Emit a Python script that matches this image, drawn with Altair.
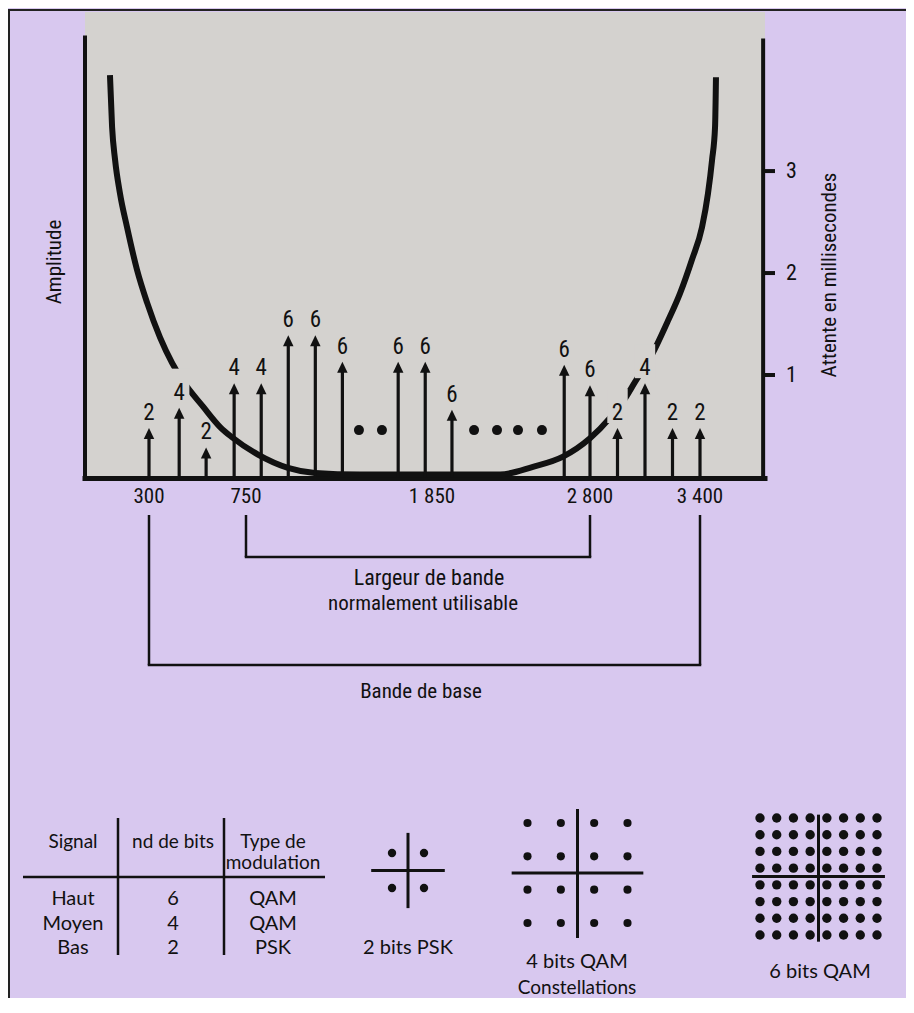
import altair as alt
import pandas as pd

# ---------------- data ----------------
# carriers: frequency (Hz), relative amplitude, bits carried
carrier_freq = [300, 440, 565, 695, 840, 1000, 1160, 1320, 1650, 1810, 1970,
                2645, 2800, 2950, 3100, 3250, 3400]
carrier_amp = [0.48, 0.68, 0.29, 0.92, 0.92, 1.39, 1.39, 1.13, 1.13, 1.13, 0.66,
               1.10, 0.90, 0.48, 0.92, 0.48, 0.48]
carrier_bits = [2, 4, 2, 4, 4, 6, 6, 6, 6, 6, 6, 6, 6, 2, 4, 2, 2]
halo_freq = [440, 2950, 3100]          # labels that interrupt the delay curve

# "..." omitted carriers
ellipsis_freq = [1418, 1554, 2103, 2241, 2367, 2511]
ellipsis_amp = [0.46, 0.46, 0.46, 0.46, 0.46, 0.46]

# group delay curve (ms)
delay_freq = [117, 127, 141, 164, 197, 244, 291, 351, 407, 458,
              551, 630, 685, 821, 998, 1158, 1424, 1850, 2259, 2457,
              2638, 2800, 2909, 2991, 3045, 3138, 3220, 3291, 3356, 3411,
              3443, 3465, 3481, 3486]
delay_ms = [3.94, 3.43, 3.11, 2.78, 2.45, 2.03, 1.71, 1.37, 1.12, 0.94,
            0.69, 0.49, 0.39, 0.22, 0.09, 0.04, 0.025, 0.025, 0.025, 0.10,
            0.20, 0.38, 0.58, 0.77, 0.93, 1.20, 1.51, 1.80, 2.13, 2.45,
            2.78, 3.11, 3.43, 3.92]

freq_ticks = [300, 750, 1850, 2800, 3400]
ms_ticks = [1, 2, 3]
plot_freq = [0, 3750]
plot_ms = [-0.02, 4.56]
axis_freq = [0, 3740]
axis_top_ms = [4.33, 4.30]
usable_band = [750, 2800]
base_band = [300, 3400]

signal_names = ["Haut", "Moyen", "Bas"]
signal_bits = [6, 4, 2]
signal_mod = ["QAM", "QAM", "PSK"]
table_cols = ["Signal", "nd de bits", "Type de modulation"]
table_headers = ["Signal", "nd de bits", "Type de\nmodulation"]

psk_i = [-1, 1, -1, 1]
psk_q = [1, 1, -1, -1]
qam16_levels = [-3, -1, 1, 3]
qam64_levels = [-7, -5, -3, -1, 1, 3, 5, 7]

# ---------------- style ----------------
LAVENDER = "#d8c8ef"
GREY = "#d4d2cf"
INK = "#111111"
COND = "Roboto Condensed"
GEO = "Lato"
W, H = 898, 990

xs = alt.Scale(domain=[0, 300, 750, 1850, 2800, 3400, 3750],
               range=[77, 141, 238, 424, 582, 692, 757], nice=False, zero=False)
ys = alt.Scale(domain=[0, 4.55], range=[469, 5], nice=False, zero=False)


def X(field):
    return alt.X(field, scale=xs, axis=None)


def Y(field):
    return alt.Y(field, scale=ys, axis=None)


one = pd.DataFrame({"a": [0]})

# ---------------- main panel ----------------
grey = alt.Chart(pd.DataFrame({"f0": [plot_freq[0]], "f1": [plot_freq[1]],
                               "m0": [plot_ms[0]], "m1": [plot_ms[1]]})).mark_rect(
    color=GREY).encode(x=X("f0:Q"), x2="f1:Q", y=Y("m0:Q"), y2="m1:Q")

frame_top = alt.Chart(one).mark_rule(color="#222", strokeWidth=2).encode(
    x=alt.value(0), x2=alt.value(W), y=alt.value(2))
frame_left = alt.Chart(one).mark_rule(color="#222", strokeWidth=2).encode(
    x=alt.value(1), y=alt.value(2), y2=alt.value(H))

side_axes = alt.Chart(pd.DataFrame({"f": axis_freq, "top": axis_top_ms,
                                    "bot": [plot_ms[0], plot_ms[0]]})).mark_rule(
    color=INK, strokeWidth=4).encode(x=X("f:Q"), y=Y("bot:Q"), y2="top:Q")
bottom_axis = alt.Chart(pd.DataFrame({"f0": [plot_freq[0]], "f1": [plot_freq[1]],
                                      "m": [-0.015]})).mark_rule(
    color=INK, strokeWidth=5, strokeCap="square").encode(
    x=X("f0:Q"), x2="f1:Q", y=Y("m:Q"))

# right-hand delay axis: ticks and labels through the ms scale
ms_df = pd.DataFrame({"ms": ms_ticks})
ms_tick_marks = alt.Chart(ms_df).mark_rule(color=INK, strokeWidth=4).encode(
    x=alt.value(755), x2=alt.value(767), y=Y("ms:Q"))
ms_tick_labels = alt.Chart(ms_df).mark_text(
    font=COND, fontSize=22, color=INK, align="left", baseline="middle").encode(
    x=alt.value(778), y=Y("ms:Q"), text="ms:N")

# frequency labels through the Hz scale
freq_labels = alt.Chart(pd.DataFrame({"f": freq_ticks})).transform_calculate(
    label="replace(format(datum.f, ','), ',', ' ')").mark_text(
    font=COND, fontSize=21, color=INK, baseline="middle").encode(
    x=X("f:Q"), y=alt.value(489), text="label:N")

curve = alt.Chart(pd.DataFrame({"f": delay_freq, "ms": delay_ms})).mark_line(
    color=INK, strokeWidth=6, interpolate="monotone", strokeCap="butt").encode(
    x=X("f:Q"), y=Y("ms:Q"))

carriers = pd.DataFrame({"f": carrier_freq, "amp": carrier_amp, "bits": carrier_bits})
halos = alt.Chart(carriers[carriers["f"].isin(halo_freq)]).mark_point(
    shape="M-0.6,-1L0.6,-1L0.6,1L-0.6,1Z", size=1156, filled=True, color=GREY,
    opacity=1, strokeWidth=0, yOffset=-22).encode(x=X("f:Q"), y=Y("amp:Q"))

stems = alt.Chart(carriers).transform_calculate(
    base="0", top="datum.amp - 0.05").mark_rule(color=INK, strokeWidth=3.2).encode(
    x=X("f:Q"), y=Y("base:Q"), y2="top:Q")
heads = alt.Chart(carriers).mark_point(
    shape="M0,0L0.5,1.05L-0.5,1.05Z", size=441, filled=True, color=INK,
    opacity=1, strokeWidth=0).encode(x=X("f:Q"), y=Y("amp:Q"))
bit_labels = alt.Chart(carriers).mark_text(
    dy=-15, font=COND, fontSize=23, color=INK, baseline="middle").encode(
    x=X("f:Q"), y=Y("amp:Q"), text="bits:N")

dots = alt.Chart(pd.DataFrame({"f": ellipsis_freq, "amp": ellipsis_amp})).mark_circle(
    size=100, color=INK, opacity=1).encode(x=X("f:Q"), y=Y("amp:Q"))

# brackets
usable_v = alt.Chart(pd.DataFrame({"f": usable_band})).mark_rule(
    color=INK, strokeWidth=2.5).encode(x=X("f:Q"), y=alt.value(507), y2=alt.value(549))
usable_h = alt.Chart(pd.DataFrame({"lo": [usable_band[0]], "hi": [usable_band[1]]})).mark_rule(
    color=INK, strokeWidth=2.5, strokeCap="square").encode(
    x=X("lo:Q"), x2="hi:Q", y=alt.value(549))
base_v = alt.Chart(pd.DataFrame({"f": base_band})).mark_rule(
    color=INK, strokeWidth=2.5).encode(x=X("f:Q"), y=alt.value(507), y2=alt.value(657))
base_h = alt.Chart(pd.DataFrame({"lo": [base_band[0]], "hi": [base_band[1]]})).mark_rule(
    color=INK, strokeWidth=2.5, strokeCap="square").encode(
    x=X("lo:Q"), x2="hi:Q", y=alt.value(657))


def note(text, x, y, font=COND, size=21, angle=0):
    return alt.Chart(one).mark_text(text=text, font=font, fontSize=size, color=INK,
                                    baseline="middle", align="center", angle=angle).encode(
        x=alt.value(x), y=alt.value(y))


notes = [
    note("Largeur de bande", 421, 570, size=22),
    note("normalement utilisable", 415, 596),
    note("Bande de base", 413, 684),
    note("Amplitude", 47, 254, angle=270),
    note("Attente en millisecondes", 822, 267, angle=270),
    note("2 bits PSK", 400, 940, font=GEO, size=20),
    note("4 bits QAM", 569, 954, font=GEO, size=20),
    note("Constellations", 569, 980, font=GEO, size=19),
    note("6 bits QAM", 812, 964, font=GEO, size=20),
]

main = alt.layer(grey, frame_top, frame_left, side_axes, bottom_axis,
                 ms_tick_marks, ms_tick_labels, freq_labels, curve, halos,
                 stems, heads, bit_labels, dots, usable_v, usable_h, base_v, base_h,
                 *notes)

# ---------------- table ----------------
tx = alt.Scale(type="point", domain=table_cols, range=[65, 265], padding=0)
ty = alt.Scale(type="point", domain=signal_names, range=[891, 940], padding=0)
rows = []
for name, bits, mod in zip(signal_names, signal_bits, signal_mod):
    rows += [{"row": name, "col": table_cols[0], "text": name},
             {"row": name, "col": table_cols[1], "text": str(bits)},
             {"row": name, "col": table_cols[2], "text": mod}]
body = alt.Chart(pd.DataFrame(rows)).mark_text(
    font=GEO, fontSize=20, color=INK, baseline="middle").encode(
    x=alt.X("col:N", scale=tx, axis=None), y=alt.Y("row:N", scale=ty, axis=None),
    text="text:N")
header = alt.Chart(pd.DataFrame({"col": table_cols, "label": table_headers})).mark_text(
    font=GEO, fontSize=19, color=INK, baseline="middle", lineBreak="\n",
    lineHeight=21).encode(x=alt.X("col:N", scale=tx, axis=None), y=alt.value(834),
                          text="label:N")
t_h = alt.Chart(one).mark_rule(color=INK, strokeWidth=2.5).encode(
    x=alt.value(15), x2=alt.value(317), y=alt.value(869))
t_v1 = alt.Chart(one).mark_rule(color=INK, strokeWidth=2.5).encode(
    x=alt.value(110), y=alt.value(810), y2=alt.value(947))
t_v2 = alt.Chart(one).mark_rule(color=INK, strokeWidth=2.5).encode(
    x=alt.value(216), y=alt.value(810), y2=alt.value(947))
table = alt.layer(t_h, t_v1, t_v2, header, body)


# ---------------- constellations ----------------
def constellation(i_vals, q_vals, dom, x_rng, y_rng, h_ext, v_ext, dot_size):
    cxs = alt.Scale(domain=dom, range=x_rng, nice=False, zero=False)
    cys = alt.Scale(domain=dom, range=y_rng, nice=False, zero=False)
    ax = pd.DataFrame({"i0": [-h_ext], "i1": [h_ext], "q0": [v_ext[0]],
                       "q1": [v_ext[1]], "z": [0]})
    hline = alt.Chart(ax).mark_rule(color=INK, strokeWidth=3).encode(
        x=alt.X("i0:Q", scale=cxs, axis=None), x2="i1:Q",
        y=alt.Y("z:Q", scale=cys, axis=None))
    vline = alt.Chart(ax).mark_rule(color=INK, strokeWidth=3).encode(
        x=alt.X("z:Q", scale=cxs, axis=None),
        y=alt.Y("q0:Q", scale=cys, axis=None), y2="q1:Q")
    pts = alt.Chart(pd.DataFrame({"i": i_vals, "q": q_vals})).mark_circle(
        size=dot_size, color=INK, opacity=1).encode(
        x=alt.X("i:Q", scale=cxs, axis=None), y=alt.Y("q:Q", scale=cys, axis=None))
    return alt.layer(hline, vline, pts)


q16_i = [i for q in qam16_levels for i in qam16_levels]
q16_q = [q for q in qam16_levels for i in qam16_levels]
q64_i = [i for q in qam64_levels for i in qam64_levels]
q64_q = [q for q in qam64_levels for i in qam64_levels]

psk = constellation(psk_i, psk_q, [-1, 1], [384, 416], [880, 845], 2.3, [-2.15, 2.15], 70)
qam16 = constellation(q16_i, q16_q, [-3, 3], [519.5, 619.5], [915, 815], 3.95, [-3.9, 3.84], 66)
qam64 = constellation(q64_i, q64_q, [-7, 7], [752, 869], [927, 810], 7.95, [-7.8, 7.4], 88)

chart = alt.layer(main, table, psk, qam16, qam64).resolve_scale(
    x="independent", y="independent").properties(
    width=W, height=H, background=LAVENDER, padding=0,
    autosize=alt.AutoSizeParams(type="none")).configure_view(stroke=None)

chart.save("out.html", embed_options={"renderer": "svg", "actions": False})
